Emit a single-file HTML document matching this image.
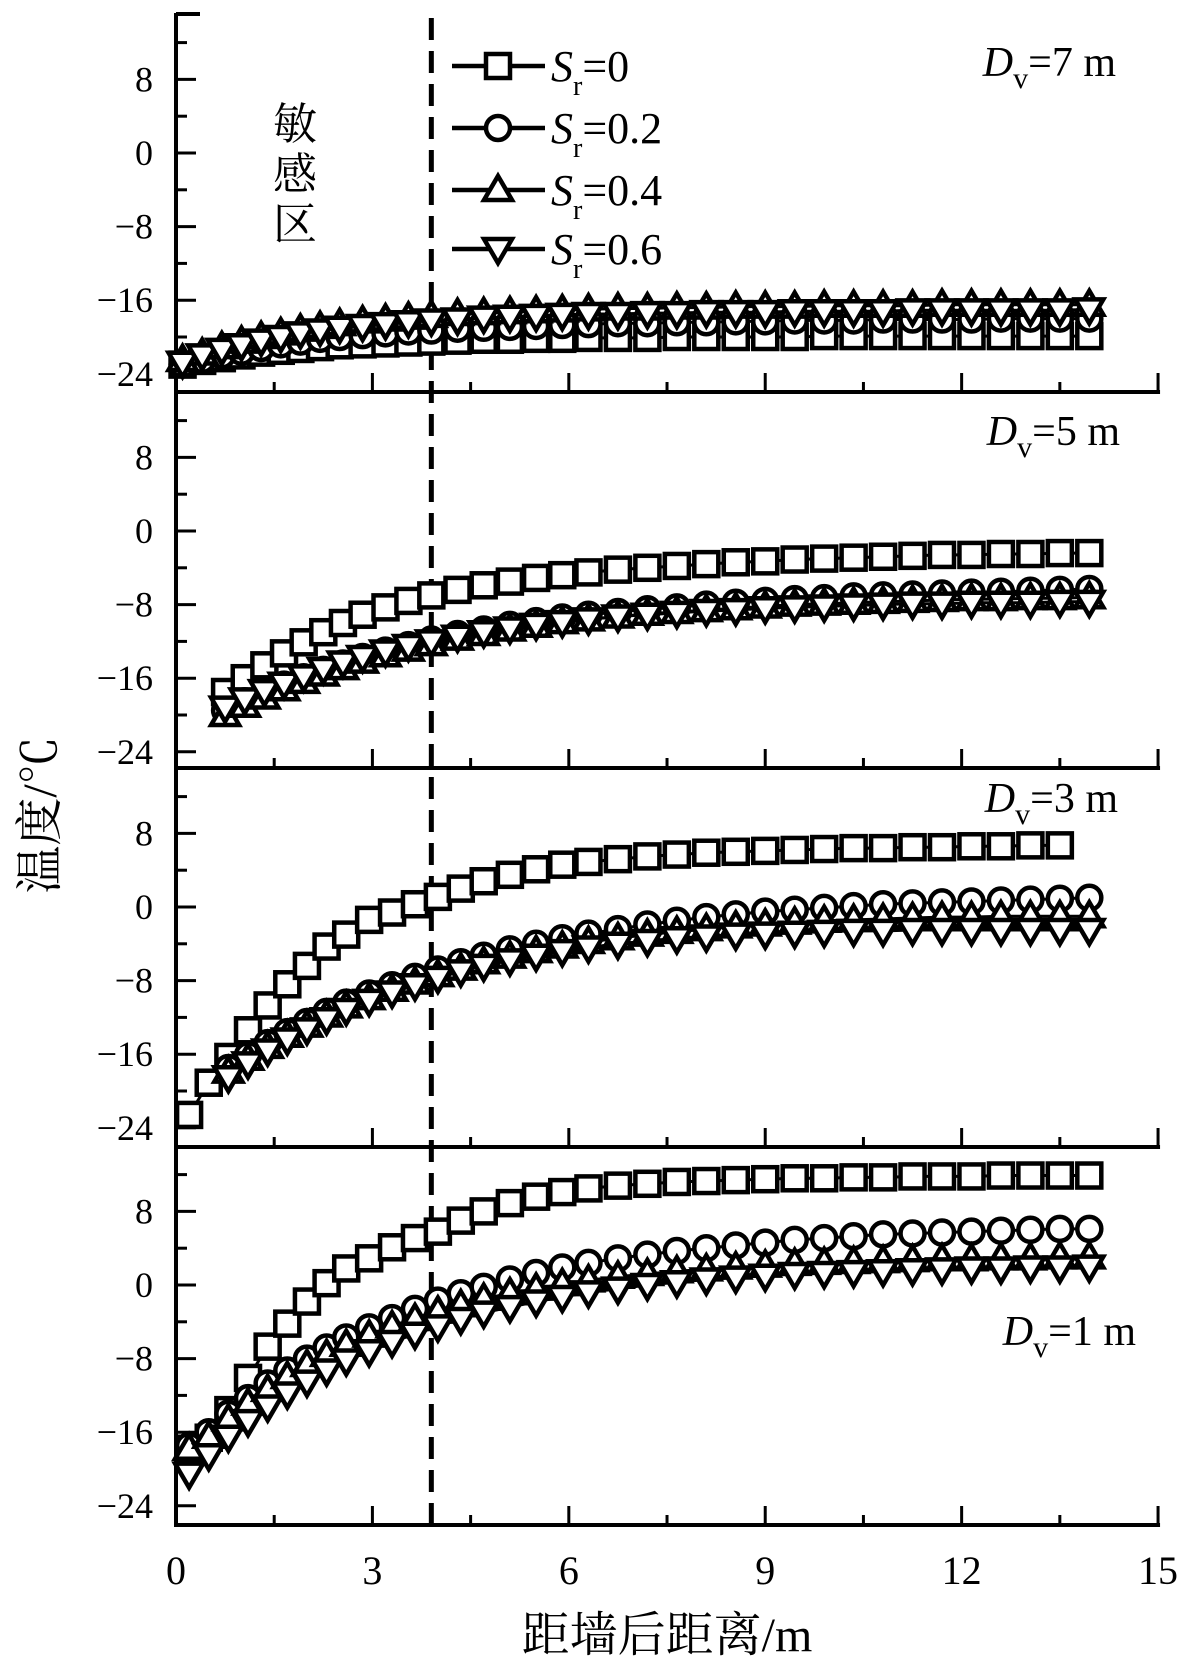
<!DOCTYPE html>
<html><head><meta charset="utf-8"><style>
html,body{margin:0;padding:0;background:#fff}
svg{display:block}
text{font-family:"Liberation Serif","Noto Serif CJK SC",serif;fill:#000}
.cjk{font-family:"Liberation Serif","Noto Serif CJK SC","Noto Sans CJK SC",serif}
</style></head><body>
<svg id="chart" xmlns="http://www.w3.org/2000/svg" width="1193" height="1669" viewBox="0 0 1193 1669">
<g id="axes"></g>
<g id="marks"></g>
<g id="labels"></g>
</svg>
<script>
const panelNames = ["Dv=7 m","Dv=5 m","Dv=3 m","Dv=1 m"];
const seriesNames = ["Sr=0","Sr=0.2","Sr=0.4","Sr=0.6"];
const yTicks = [-24,-16,-8,0,8];
const yMinor = [-20,-12,-4,4,12];
const xTicks = [0,3,6,9,12,15];
const xMinor = [1.5,4.5,7.5,10.5,13.5];
const sensitiveX = 3.9;

const x1 = [0.1,0.4,0.7,1.0,1.3,1.6,1.9,2.2,2.5,2.85,3.2,3.55,3.9,4.3,4.7,5.1,5.5,5.9,6.3,6.75,7.2,7.65,8.1,8.55,9.0,9.45,9.9,10.35,10.8,11.25,11.7,12.15,12.6,13.05,13.5,13.95];
const x2 = [0.75,1.05,1.35,1.65,1.95,2.25,2.55,2.85,3.2,3.55,3.9,4.3,4.7,5.1,5.5,5.9,6.3,6.75,7.2,7.65,8.1,8.55,9.0,9.45,9.9,10.35,10.8,11.25,11.7,12.15,12.6,13.05,13.5,13.95];
const x34 = [0.2,0.5,0.8,1.1,1.4,1.7,2.0,2.3,2.6,2.95,3.3,3.65,4.0,4.35,4.7,5.1,5.5,5.9,6.3,6.75,7.2,7.65,8.1,8.55,9.0,9.45,9.9,10.35,10.8,11.25,11.7,12.15,12.6,13.05,13.5,13.95];

const p1s0 = [-23,-22.6,-22.3,-22,-21.7,-21.5,-21.3,-21.1,-20.9,-20.8,-20.7,-20.6,-20.5,-20.4,-20.3,-20.3,-20.2,-20.2,-20.1,-20.1,-20.1,-20,-20,-20,-20,-20,-19.9,-19.9,-19.9,-19.9,-19.9,-19.9,-19.9,-19.9,-19.9,-19.9];
const p1s2 = [-23,-22.5,-22,-21.6,-21.2,-20.8,-20.5,-20.2,-20,-19.8,-19.6,-19.4,-19.3,-19.1,-19,-18.9,-18.8,-18.7,-18.6,-18.5,-18.5,-18.4,-18.4,-18.3,-18.3,-18.2,-18.2,-18.2,-18.1,-18.1,-18.1,-18.1,-18,-18,-18,-18];
const p1s4 = [-22.5,-21.8,-21.1,-20.5,-20,-19.6,-19.2,-18.9,-18.6,-18.3,-18.1,-17.9,-17.7,-17.5,-17.4,-17.3,-17.2,-17.1,-17,-16.9,-16.9,-16.8,-16.8,-16.7,-16.7,-16.7,-16.6,-16.6,-16.6,-16.6,-16.5,-16.5,-16.5,-16.5,-16.5,-16.5];
const p1s6 = [-22.8,-22,-21.4,-20.9,-20.4,-20,-19.6,-19.3,-19,-18.8,-18.6,-18.4,-18.2,-18.1,-17.9,-17.8,-17.7,-17.6,-17.5,-17.5,-17.4,-17.4,-17.3,-17.3,-17.3,-17.2,-17.2,-17.2,-17.2,-17.1,-17.1,-17.1,-17.1,-17.1,-17.1,-17];

const p2s0 = [-17.5,-16,-14.6,-13.3,-12.1,-11,-10,-9.1,-8.3,-7.6,-7,-6.4,-5.9,-5.5,-5.1,-4.8,-4.5,-4.2,-4,-3.8,-3.6,-3.4,-3.3,-3.1,-3,-2.9,-2.8,-2.7,-2.6,-2.6,-2.5,-2.5,-2.4,-2.4];
const p2s2 = [-19.5,-18.5,-17.6,-16.7,-15.9,-15.1,-14.4,-13.7,-13,-12.4,-11.8,-11.2,-10.7,-10.2,-9.8,-9.4,-9.1,-8.8,-8.5,-8.3,-8.0,-7.8,-7.6,-7.4,-7.3,-7.1,-7.0,-6.9,-6.8,-6.7,-6.6,-6.5,-6.4,-6.3];
const p2s4 = [-20,-19,-18.1,-17.2,-16.4,-15.6,-14.9,-14.2,-13.5,-12.9,-12.3,-11.7,-11.2,-10.7,-10.3,-9.9,-9.6,-9.3,-9,-8.8,-8.6,-8.4,-8.2,-8.0,-7.9,-7.8,-7.7,-7.6,-7.5,-7.4,-7.4,-7.3,-7.3,-7.2];
const p2s6 = [-19.2,-18.3,-17.4,-16.6,-15.8,-15.0,-14.3,-13.7,-13.1,-12.5,-12,-11.5,-11,-10.6,-10.2,-9.9,-9.6,-9.3,-9.1,-8.9,-8.7,-8.6,-8.4,-8.3,-8.2,-8.1,-8.0,-7.9,-7.9,-7.8,-7.8,-7.8,-7.7,-7.7];

const p3s0 = [-22.6,-19.1,-16.3,-13.4,-10.7,-8.4,-6.4,-4.3,-3,-1.4,-0.6,0.3,1.1,2,2.8,3.5,4.1,4.6,4.9,5.2,5.5,5.7,5.9,6,6.1,6.2,6.3,6.4,6.4,6.5,6.5,6.6,6.6,6.7,6.7,null];
const p3s2 = [null,null,-17.5,-16.1,-14.8,-13.6,-12.5,-11.4,-10.4,-9.4,-8.5,-7.6,-6.8,-6,-5.3,-4.6,-4,-3.4,-2.9,-2.4,-1.9,-1.5,-1.1,-0.8,-0.5,-0.3,-0.1,0.1,0.3,0.4,0.5,0.6,0.7,0.8,0.9,1.0];
const p3s4 = [null,null,-17.9,-16.5,-15.2,-14,-12.9,-11.8,-10.8,-9.9,-9,-8.2,-7.4,-6.7,-6,-5.4,-4.8,-4.3,-3.8,-3.4,-3,-2.7,-2.4,-2.1,-1.9,-1.7,-1.5,-1.4,-1.3,-1.2,-1.1,-1.1,-1,-1,-1,-1];
const p3s6 = [null,null,-18.5,-17,-15.6,-14.4,-13.3,-12.2,-11.2,-10.2,-9.3,-8.5,-7.7,-7,-6.4,-5.8,-5.3,-4.8,-4.4,-4,-3.7,-3.4,-3.2,-3,-2.9,-2.8,-2.7,-2.6,-2.6,-2.5,-2.5,-2.5,-2.5,-2.5,-2.5,-2.5];

const p4s0 = [-17.8,-16.6,-13.6,-10.1,-6.7,-4.2,-1.8,0.2,1.8,2.9,4.1,5.1,5.8,7,8,8.9,9.6,10.1,10.5,10.8,11,11.2,11.3,11.4,11.5,11.6,11.6,11.7,11.7,11.8,11.8,11.8,11.9,11.9,11.9,11.9];
const p4s2 = [-17.5,-16,-14,-12.3,-10.7,-9.3,-8,-6.8,-5.7,-4.6,-3.6,-2.6,-1.7,-0.9,-0.2,0.6,1.3,1.9,2.4,2.9,3.3,3.7,4,4.3,4.6,4.9,5.1,5.3,5.5,5.6,5.7,5.8,5.9,6,6.1,6.1];
const p4s4 = [-17.8,-16.5,-14.6,-12.9,-11.4,-10,-8.7,-7.6,-6.5,-5.5,-4.5,-3.7,-2.9,-2.2,-1.5,-0.9,-0.4,0.1,0.5,0.9,1.2,1.5,1.7,1.9,2.1,2.3,2.4,2.5,2.6,2.7,2.8,2.8,2.9,2.9,3,3];
const p4s6 = [-20.5,-18.5,-16.5,-14.8,-13.2,-11.8,-10.5,-9.3,-8.2,-7.2,-6.2,-5.3,-4.5,-3.7,-3,-2.4,-1.8,-1.3,-0.8,-0.4,0,0.3,0.6,0.8,1,1.2,1.3,1.4,1.5,1.6,1.7,1.8,1.8,1.9,1.9,2];

const panelX = [x1,x2,x34,x34];
const panelSeries = [[p1s0,p1s2,p1s4,p1s6],[p2s0,p2s2,p2s4,p2s6],[p3s0,p3s2,p3s4,p3s6],[p4s0,p4s2,p4s4,p4s6]];

const NS = "http://www.w3.org/2000/svg";
const X0 = 176, XPU = 65.47;
const zeroY = [153,531,907,1285];
const YPU = 9.2;
const bottoms = [392,768,1147,1525];
const TOP = 13;
function xs(v){return X0 + v*XPU;}
function ys(p,v){return zeroY[p] - v*YPU;}
function mk(tag, attrs, parent){
  const e = document.createElementNS(NS, tag);
  for (const k in attrs) e.setAttribute(k, attrs[k]);
  parent.appendChild(e);
  return e;
}
const axes = document.getElementById('axes');
const marks = document.getElementById('marks');
const labels = document.getElementById('labels');

let la = mk('line',{x1:X0,y1:TOP,x2:X0,y2:bottoms[3]+2,stroke:'#000','stroke-width':4},axes);


let cap = mk('line',{x1:X0,y1:TOP+1,x2:X0+24,y2:TOP+1,stroke:'#000','stroke-width':4},axes);



for (let p=0;p<4;p++){
  const b = bottoms[p];
  let bl = mk('line',{x1:X0-2,y1:b,x2:xs(15)+2,y2:b,stroke:'#000','stroke-width':4},axes);
  
  
  xTicks.forEach(v=>{
    let t = mk('line',{x1:xs(v),y1:b,x2:xs(v),y2:b-19,stroke:'#000','stroke-width':3},axes);
    
    
  });
  xMinor.forEach(v=>{
    let t = mk('line',{x1:xs(v),y1:b,x2:xs(v),y2:b-10,stroke:'#000','stroke-width':3},axes);
    
    
  });
  yTicks.forEach(v=>{
    const y = ys(p,v);
    let t = mk('line',{x1:X0,y1:y,x2:X0+20,y2:y,stroke:'#000','stroke-width':3},axes);
    
    
    let tl = mk('text',{x:153,y:y+12,'text-anchor':'end','font-size':36},labels);
    tl.textContent = v<0 ? '\u2212'+Math.abs(v) : String(v);
    
    
  });
  yMinor.forEach(v=>{
    const y = ys(p,v);
    if (y < TOP+4) return;
    let t = mk('line',{x1:X0,y1:y,x2:X0+11,y2:y,stroke:'#000','stroke-width':3},axes);
    
    
  });
}
xTicks.forEach(v=>{
  let tl = mk('text',{x:xs(v),y:1584,'text-anchor':'middle','font-size':40},labels);
  tl.textContent = String(v);
  
  
});

let dl = mk('line',{x1:xs(sensitiveX),y1:18,x2:xs(sensitiveX),y2:bottoms[3],stroke:'#000','stroke-width':5,'stroke-dasharray':'22 11'},axes);



const SW = 4.5;
function marker(type, cx, cy, parent){
  let e;
  if (type===0) e = mk('rect',{x:cx-12,y:cy-12,width:24,height:24,fill:'#fff',stroke:'#000','stroke-width':SW},parent);
  else if (type===1) e = mk('circle',{cx:cx,cy:cy,r:12,fill:'#fff',stroke:'#000','stroke-width':SW},parent);
  else if (type===2) e = mk('polygon',{points:(cx)+','+(cy-14)+' '+(cx+14)+','+(cy+10)+' '+(cx-14)+','+(cy+10),fill:'#fff',stroke:'#000','stroke-width':SW},parent);
  else e = mk('polygon',{points:(cx)+','+(cy+14)+' '+(cx+14)+','+(cy-10)+' '+(cx-14)+','+(cy-10),fill:'#fff',stroke:'#000','stroke-width':SW},parent);
  return e;
}
const typeNames = ['square','circle','triangle','inverted-triangle'];

for (let p=0;p<4;p++){
  const xv = panelX[p];
  for (let s=0;s<4;s++){
    const ys_ = panelSeries[p][s];
    const g = mk('g',{},marks);
    
    
    let pts = [];
    for (let i=0;i<xv.length;i++){ if (ys_[i]!==null && ys_[i]!==undefined) pts.push(xs(xv[i]).toFixed(1)+','+ys(p,ys_[i]).toFixed(1)); }
    let pl = mk('polyline',{points:pts.join(' '),fill:'none',stroke:'#000','stroke-width':3},g);
    
    
    for (let i=0;i<xv.length;i++){
      if (ys_[i]===null || ys_[i]===undefined) continue;
      const m = marker(s, xs(xv[i]), ys(p,ys_[i]), g);
      
      
    }
  }
}

const legendY = [66,128,190,249];
for (let s=0;s<4;s++){
  const g = mk('g',{},labels);
  
  
  const y = legendY[s];
  let ln = mk('line',{x1:452,y1:y,x2:545,y2:y,stroke:'#000','stroke-width':4.5},g);
  
  
  const m = marker(s, 498, y, g);
  
  
  const t = mk('text',{x:551,y:y+15,'font-size':44},g);
  
  
  const val = seriesNames[s].split('=')[1];
  t.innerHTML = '<tspan font-style="italic">S</tspan><tspan font-size="28" dy="14">r</tspan><tspan dy="-14">='+val+'</tspan>';
}

const dvPos = [[1116,76],[1120,445],[1118,812],[1136,1345]];
const dvVals = ['7','5','3','1'];
for (let p=0;p<4;p++){
  const t = mk('text',{x:dvPos[p][0],y:dvPos[p][1],'text-anchor':'end','font-size':42},labels);
  
  
  t.innerHTML = '<tspan font-style="italic">D</tspan><tspan font-size="30" dy="12">v</tspan><tspan dy="-12">='+dvVals[p]+' m</tspan>';
}

const zoneChars = ['敏','感','区'];
zoneChars.forEach((c,i)=>{
  const t = mk('text',{x:295,y:139+i*50,'text-anchor':'middle','font-size':44,'class':'cjk'},labels);
  t.textContent = c;
  
  
});

const yt = mk('text',{x:0,y:0,'text-anchor':'middle','font-size':48,'class':'cjk',transform:'translate(56,815) rotate(-90)'},labels);
yt.textContent = '温度/℃';


const xt = mk('text',{x:667,y:1651,'text-anchor':'middle','font-size':48,'class':'cjk'},labels);
xt.textContent = '距墙后距离/m';


</script>
</body></html>
